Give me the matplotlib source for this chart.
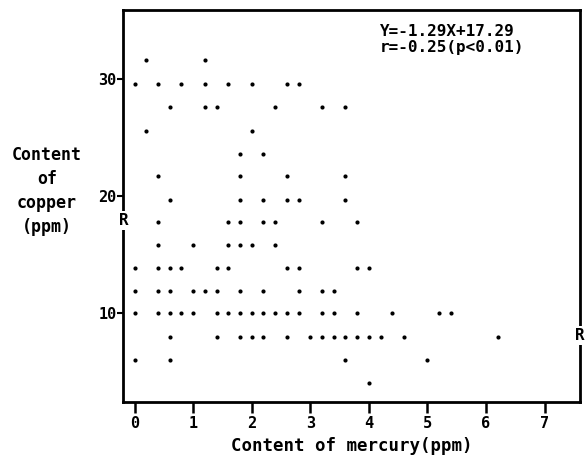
import matplotlib
matplotlib.use("Agg")
import matplotlib.pyplot as plt
import matplotlib.transforms as mtransforms

# copper (ppm) rows and mercury (ppm) values observed on each row
copper_rows = [31.6, 29.6, 27.6, 25.6, 23.6, 21.7, 19.7, 17.8, 15.8, 13.9, 11.9, 10.0, 8.0, 6.0, 4.0]
mercury_by_row = [
    [0.2, 1.2],
    [0.0, 0.4, 0.8, 1.2, 1.6, 2.0, 2.6, 2.8],
    [0.6, 1.2, 1.4, 2.4, 3.2, 3.6],
    [0.2, 2.0],
    [1.8, 2.2],
    [0.4, 1.8, 2.6, 3.6],
    [0.6, 1.8, 2.2, 2.6, 2.8, 3.6],
    [0.4, 1.6, 1.8, 2.2, 2.4, 3.2, 3.8],
    [0.4, 1.0, 1.6, 1.8, 2.0, 2.4],
    [0.0, 0.4, 0.6, 0.8, 1.4, 1.6, 2.6, 2.8, 3.8, 4.0],
    [0.0, 0.4, 0.6, 1.0, 1.2, 1.4, 1.8, 2.2, 2.8, 3.2, 3.4],
    [0.0, 0.4, 0.6, 0.8, 1.0, 1.4, 1.6, 1.8, 2.0, 2.2, 2.4, 2.6, 2.8, 3.2, 3.4, 3.8, 4.4, 5.2, 5.4],
    [0.6, 1.4, 1.8, 2.0, 2.2, 2.6, 3.0, 3.2, 3.4, 3.6, 3.8, 4.0, 4.2, 4.6, 6.2],
    [0.0, 0.6, 3.6, 5.0],
    [4.0],
]
x_ticks = [0, 1, 2, 3, 4, 5, 6, 7]
y_ticks = [10, 20, 30]
equation = "Y=-1.29X+17.29"
corr = "r=-0.25(p<0.01)"
x_label = "Content of mercury(ppm)"
y_label = "Content\nof\ncopper\n(ppm)"
reg_left_y = 17.9
reg_right_y = 8.1

xs, ys = [], []
for yv, row in zip(copper_rows, mercury_by_row):
    for xv in row:
        xs.append(xv)
        ys.append(yv)

FONT = "DejaVu Sans Mono"
fig = plt.figure(figsize=(5.88, 4.66), dpi=100)
ax = fig.add_axes([0.210, 0.137, 0.776, 0.8415])
ax.scatter(xs, ys, s=9, color="black", linewidths=0, zorder=3)
ax.set_xlim(-0.19, 7.6)
ax.set_ylim(2.4, 35.9)
ax.set_xticks(x_ticks)
ax.set_yticks(y_ticks)
ax.set_xticklabels([str(t) for t in x_ticks], family=FONT, weight="bold", fontsize=11)
ax.set_yticklabels([str(t) for t in y_ticks], family=FONT, weight="bold", fontsize=11)
ax.tick_params(axis="x", direction="out", length=8, width=1.8, pad=2)
ax.tick_params(axis="y", direction="out", length=4, width=1.5, pad=1)
for sp in ax.spines.values():
    sp.set_linewidth(2.0)

ax.text(0.5625, 0.946, equation, transform=ax.transAxes, family=FONT, weight="bold",
        fontsize=11.5, va="center", ha="left")
ax.text(0.5625, 0.905, corr, transform=ax.transAxes, family=FONT, weight="bold",
        fontsize=11.5, va="center", ha="left")

trans = mtransforms.blended_transform_factory(ax.transAxes, ax.transData)
ax.text(0.0, reg_left_y, "R", transform=trans, family=FONT, weight="bold", fontsize=11.5,
        ha="center", va="center", clip_on=False, zorder=6,
        bbox=dict(facecolor="white", edgecolor="none", pad=1.5))
ax.text(1.0, reg_right_y, "R", transform=trans, family=FONT, weight="bold", fontsize=11.5,
        ha="center", va="center", clip_on=False, zorder=6,
        bbox=dict(facecolor="white", edgecolor="none", pad=1.5))

ax.set_xlabel(x_label, family=FONT, weight="bold", fontsize=12.5, labelpad=4)
fig.text(47 / 588, 1 - 191 / 466, y_label, family=FONT, weight="bold", fontsize=12,
         ha="center", va="center", linespacing=1.45)

fig.savefig("out.png", dpi=100)
